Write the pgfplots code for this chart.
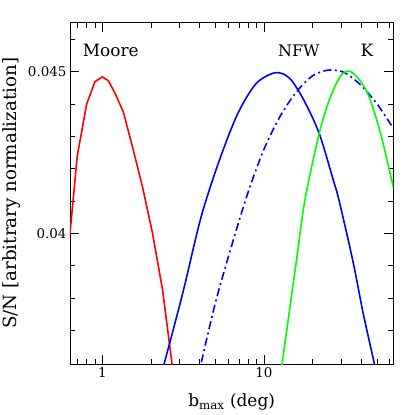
\documentclass[border=0pt]{standalone}
\usepackage{fontspec}
\setmainfont{DejaVu Serif}
\usepackage{pgfplots}
\pgfplotsset{compat=1.18}
\begin{document}
\begin{tikzpicture}
\path[use as bounding box] (-70bp,-51bp) rectangle (345bp,364bp);
\begin{axis}[
  at={(0,0)}, anchor=south west,
  scale only axis, width=323.3bp, height=341.3bp,
  xmode=log, xmin=0.631, xmax=63.1, ymin=0.03596, ymax=0.046515,
  scaled y ticks=false,
  axis line style={line width=0.8bp},
  every tick/.style={line width=0.8bp, black},
  major tick length=9bp, minor tick length=5bp,
  tick align=inside, xtick pos=both, ytick pos=both,
  xtick={1,10}, xticklabels={1,10},
  minor xtick={0.7,0.8,0.9,2,3,4,5,6,7,8,9,20,30,40,50,60},
  ytick={0.04,0.045}, yticklabels={0.04,0.045},
  minor ytick={0.037,0.038,0.039,0.041,0.042,0.043,0.044,0.046},
  ticklabel style={font=\fontsize{13.5}{15}\selectfont},
  xlabel={b\textsubscript{max} (deg)},
  xlabel style={at={(axis description cs:0.5,-0.1251)}, anchor=base, font=\fontsize{17}{19}\selectfont},
  ylabel={S/N [arbitrary normalization]},
  ylabel style={at={(axis description cs:-0.164,0.5)}, anchor=base, font=\fontsize{18.3}{20}\selectfont},
  every axis plot/.append style={line width=1.6bp},
]
\addplot[red, sharp plot] coordinates {
(0.631,0.04000) (0.70,0.04240) (0.80,0.04400) (0.90,0.04469) (1.00,0.04484)
(1.09,0.04472) (1.20,0.04433) (1.35,0.04375) (1.536,0.04268) (1.772,0.04144)
(2.045,0.04000) (2.359,0.03825) (2.70,0.03596) (2.75,0.0357)
};
\addplot[blue, smooth] coordinates {
(2.27,0.03550) (2.416,0.03598) (3.14,0.03814) (4.085,0.04051) (5.307,0.04227)
(6.894,0.04371) (8.97,0.04464) (11.82,0.04497) (14.44,0.04479) (17.65,0.04412)
(21.96,0.04309) (26.83,0.04165) (29.1,0.04103) (35.4,0.03917) (41.2,0.03750)
(48.2,0.03596) (50,0.0355)
};
\addplot[blue, smooth, dash pattern=on 8bp off 3.5bp on 2bp off 3.5bp] coordinates {
(3.9,0.0355) (4.085,0.03598) (5.01,0.03786) (6.31,0.03962) (7.94,0.04124)
(10.0,0.04260) (12.59,0.04362) (15.85,0.04437) (19.95,0.04487) (25.1,0.04505)
(31.6,0.04497) (39.8,0.04458) (50.1,0.04400) (63.1,0.04325) (64,0.04318)
};
\addplot[green, smooth] coordinates {
(12.6,0.0355) (12.94,0.03596) (15.89,0.03917) (17.92,0.04103) (21.96,0.04309)
(25.33,0.04412) (29.53,0.04484) (33.58,0.04502) (38.36,0.04479) (44.26,0.04428)
(52.3,0.04314) (63.1,0.04144) (64,0.0413)
};
\node[anchor=base west, font=\fontsize{17}{19}\selectfont] at (axis description cs:0.0288,0.9024) {Moore};
\node[anchor=base, font=\fontsize{16}{19}\selectfont] at (axis description cs:0.7077,0.9024) {NFW};
\node[anchor=base, font=\fontsize{17}{19}\selectfont] at (axis description cs:0.9187,0.9024) {K};
\end{axis}
\end{tikzpicture}
\end{document}
